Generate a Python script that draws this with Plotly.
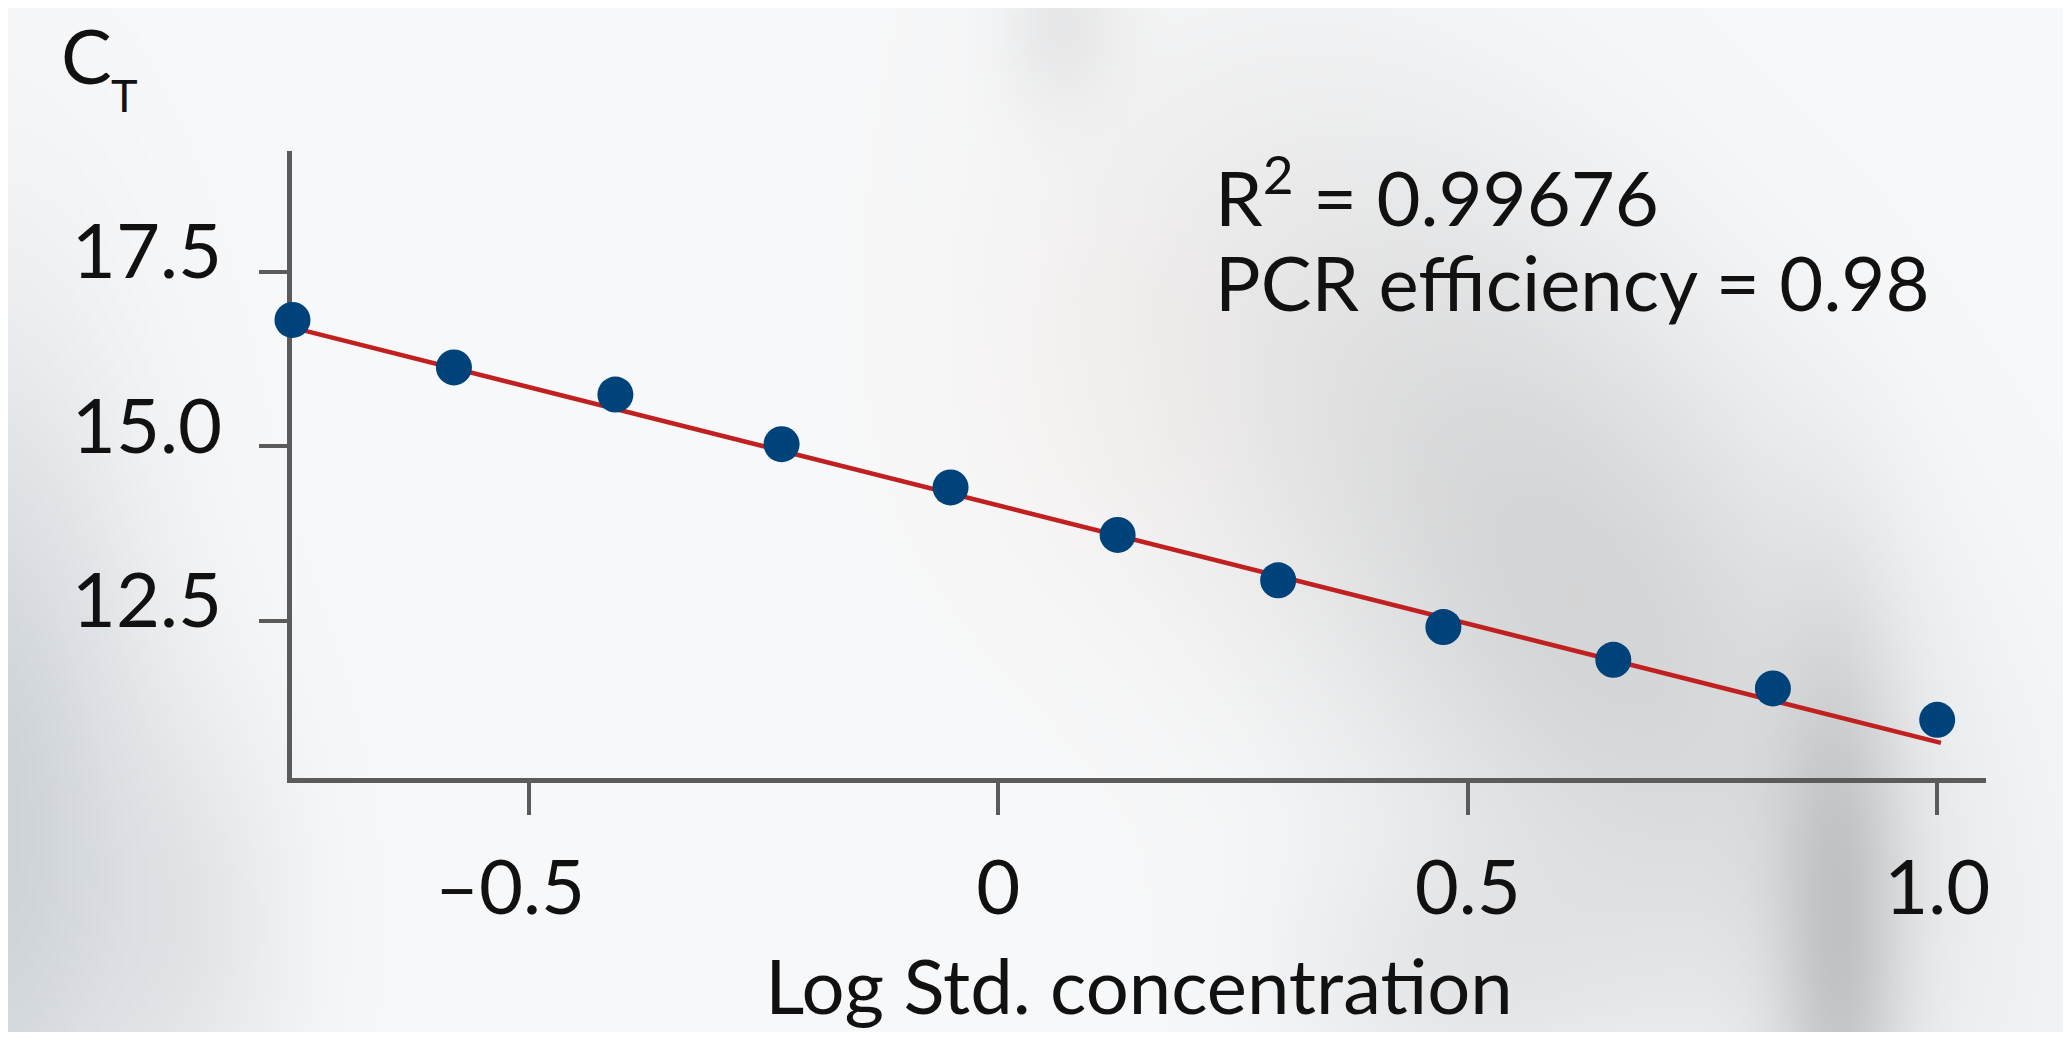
import base64
import struct
import zlib

import numpy as np
import plotly.graph_objects as go

# ---------------- data ----------------
log_conc = [-0.752, -0.580, -0.408, -0.231, -0.051, 0.127, 0.298, 0.474, 0.655, 0.825, 1.000]
ct_values = [16.81, 16.13, 15.74, 15.03, 14.41, 13.73, 13.08, 12.41, 11.94, 11.53, 11.08]
fit_x = [-0.752, 1.004]
fit_y = [16.70, 10.75]

x_tick_vals = [-0.5, 0.0, 0.5, 1.0]
x_tick_text = ["\u20130.5\u2002", "0", "0.5", "1.0"]
y_tick_vals = [12.5, 15.0, 17.5]
y_tick_text = ["12.5", "15.0", "17.5"]

r2_text = "R<sup>2</sup> = 0.99676"
eff_text = "PCR efficiency = 0.98"
x_title = "Log Std. concentration"

# ---------------- layout geometry ----------------
# the page body has an 8 px margin, so the figure is drawn 8 px in from the window corner
OFF = 8
WIN_W, WIN_H = 2071, 1040
W, H = WIN_W - 2 * OFF, WIN_H - 2 * OFF
PLOT_L, PLOT_T, PLOT_R, PLOT_B = 292, 151, 1986, 778   # window pixels of the plot area
ML, MT = PLOT_L - OFF, PLOT_T - OFF
PW, PH = PLOT_R - PLOT_L, PLOT_B - PLOT_T
MR, MB = W - ML - PW, H - MT - PH

FONT = "Lato, 'Open Sans', sans-serif"
FS = 76
TXT = "#111111"
AXIS_COLOR = "#5b5b5b"


def px2paper(xp, yp):
    """window pixel -> paper coordinate"""
    return (xp - PLOT_L) / PW, (PLOT_B - yp) / PH


# ---------------- soft blurred background image ----------------
def make_background():
    sw, sh = W // 8, H // 8
    gx, gy = np.meshgrid(OFF + (np.arange(sw) + 0.5) * W / sw,
                         OFF + (np.arange(sh) + 0.5) * H / sh)
    img = np.zeros((sh, sw, 3)) + np.array([248.0, 249.0, 250.0])

    def blob(cx, cy, sx, sy, amp, ang=0.0):
        a = np.deg2rad(ang)
        dx, dy = gx - cx, gy - cy
        u = dx * np.cos(a) + dy * np.sin(a)
        v = -dx * np.sin(a) + dy * np.cos(a)
        g = np.exp(-0.5 * ((u / sx) ** 2 + (v / sy) ** 2))
        return g[..., None] * np.array(amp)[None, None, :]

    img -= blob(-20, 820, 120, 330, [42, 38, 34])
    img -= blob(200, 930, 80, 160, [14, 13, 12])
    img -= blob(1580, 600, 180, 360, [36, 36, 36], -35)
    img -= blob(1840, 960, 45, 220, [38, 38, 38])
    img -= blob(1060, 20, 40, 60, [14, 14, 14])
    img -= blob(1450, 980, 120, 90, [14, 14, 14])
    img -= blob(1120, 380, 130, 160, [0, 4, 6])
    img = np.clip(img, 0, 255).astype(np.uint8)

    raw = b"".join(b"\x00" + img[r].tobytes() for r in range(sh))

    def chunk(tag, data):
        c = struct.pack(">I", len(data)) + tag + data
        return c + struct.pack(">I", zlib.crc32(tag + data) & 0xFFFFFFFF)

    png = b"\x89PNG\r\n\x1a\n"
    png += chunk(b"IHDR", struct.pack(">IIBBBBB", sw, sh, 8, 2, 0, 0, 0))
    png += chunk(b"IDAT", zlib.compress(raw, 9))
    png += chunk(b"IEND", b"")
    return "data:image/png;base64," + base64.b64encode(png).decode()


fig = go.Figure()

fig.add_trace(go.Scatter(
    x=fit_x, y=fit_y, mode="lines",
    line=dict(color="#c0201f", width=4.5),
    hoverinfo="skip", showlegend=False, cliponaxis=False,
))
fig.add_trace(go.Scatter(
    x=log_conc, y=ct_values, mode="markers",
    marker=dict(color="#00427a", size=36, line=dict(width=0)),
    showlegend=False, cliponaxis=False,
))

bx0, by0 = px2paper(OFF, OFF)
fig.add_layout_image(dict(
    source=make_background(), xref="paper", yref="paper",
    x=bx0, y=by0, sizex=W / PW, sizey=H / PH,
    xanchor="left", yanchor="top", sizing="stretch", layer="below",
))

annos = []
ax, ay = px2paper(1213, 191)
annos.append(dict(text=r2_text, x=ax, y=ay, xanchor="left", yanchor="middle"))
ax, ay = px2paper(1213, 281)
annos.append(dict(text=eff_text, x=ax, y=ay, xanchor="left", yanchor="middle"))
ax, ay = px2paper(86, 54)
annos.append(dict(text="C", x=ax, y=ay, xanchor="center", yanchor="middle"))
ax, ay = px2paper(124, 95)
annos.append(dict(text="T", x=ax, y=ay, xanchor="center", yanchor="middle",
                  font=dict(family=FONT, size=45, color=TXT)))
for a in annos:
    a.setdefault("font", dict(family=FONT, size=FS, color=TXT))
    a.update(xref="paper", yref="paper", showarrow=False)

fig.update_layout(
    width=W, height=H, autosize=False,
    margin=dict(l=ML, r=MR, t=MT, b=MB, autoexpand=False),
    paper_bgcolor="#f8f9fa",
    plot_bgcolor="rgba(0,0,0,0)",
    font=dict(family=FONT, size=FS, color=TXT),
    annotations=annos,
    xaxis=dict(
        range=[-0.7525, 1.052], showgrid=False, zeroline=False, automargin=False,
        showline=True, linecolor=AXIS_COLOR, linewidth=4.5,
        ticks="outside", ticklen=32, tickwidth=4, tickcolor=AXIS_COLOR,
        tickvals=x_tick_vals, ticktext=x_tick_text,
        tickfont=dict(family=FONT, size=FS, color=TXT),
        ticklabelstandoff=8,
        title=dict(text=x_title, standoff=33,
                   font=dict(family=FONT, size=FS, color=TXT)),
        layer="below traces", fixedrange=True,
    ),
    yaxis=dict(
        range=[10.247, 19.23], showgrid=False, zeroline=False, automargin=False,
        showline=True, linecolor=AXIS_COLOR, linewidth=4.5,
        ticks="outside", ticklen=28, tickwidth=4, tickcolor=AXIS_COLOR,
        tickvals=y_tick_vals, ticktext=y_tick_text,
        tickfont=dict(family=FONT, size=FS, color=TXT),
        ticklabelstandoff=22, ticklabelshift=-20,
        layer="below traces", fixedrange=True,
    ),
)

fig.write_html("out.html", config={"displayModeBar": False})
